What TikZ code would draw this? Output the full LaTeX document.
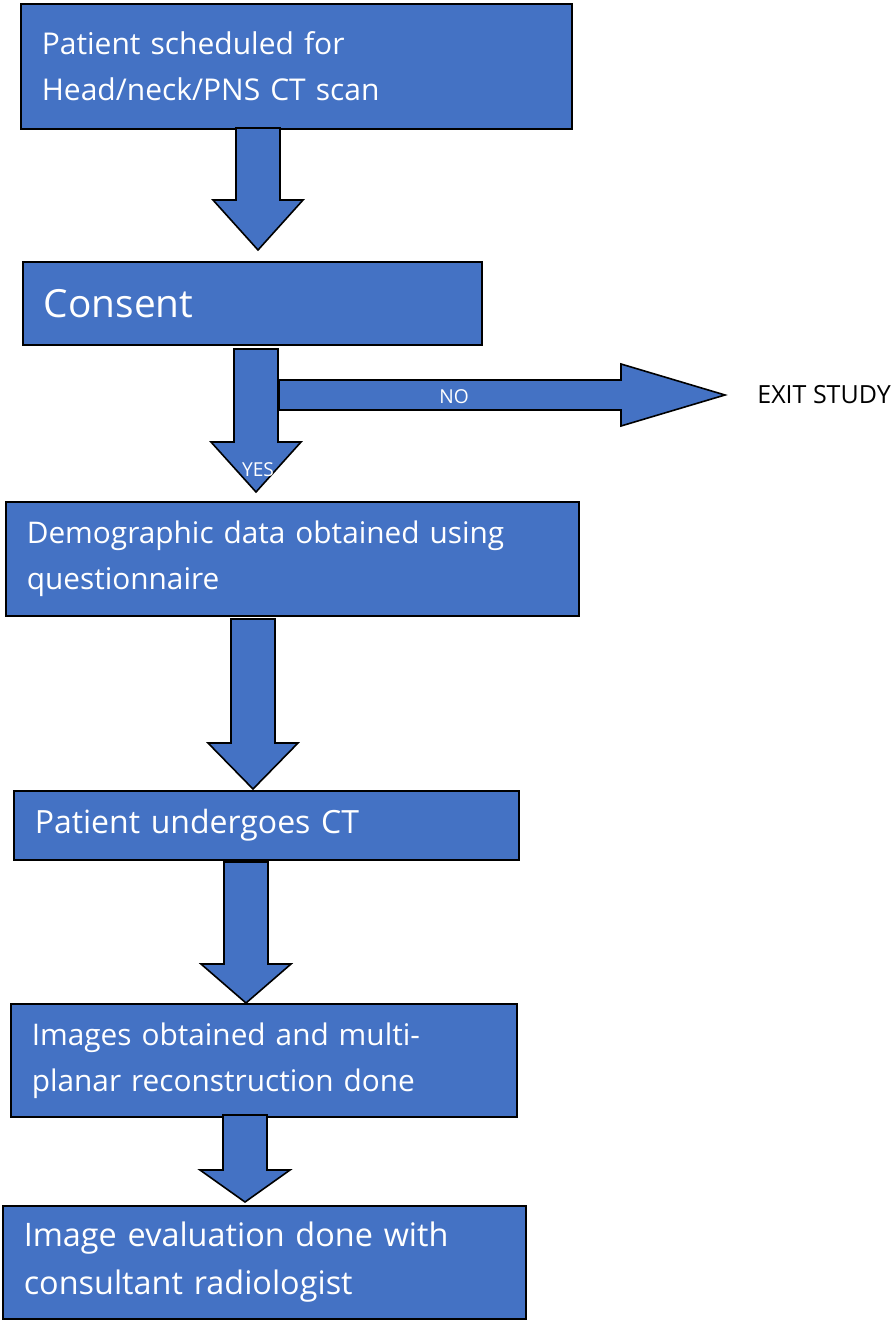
\documentclass[tikz,border=0pt]{standalone}
\usepackage{fontspec}
\setmainfont{Open Sans}
\usepackage{tikz}
\usetikzlibrary{positioning, calc}
\definecolor{boxblue}{HTML}{4472C4}

\newcommand{\blockdown}[3]{%
  \draw[block arrow] let \p1=(#1), \p2=(#2) in
    (\x1-11pt,\y1) -- (\x1+11pt,\y1) -- (\x1+11pt,\y2+#3) -- (\x1+22.5pt,\y2+#3)
    -- (\x2,\y2) -- (\x1-22.5pt,\y2+#3) -- (\x1-11pt,\y2+#3) -- cycle;}

\begin{document}
\begin{tikzpicture}[x=1pt, y=1pt,
  flow box/.style={draw=black, line width=0.8pt, fill=boxblue, text=white,
    align=left, inner xsep=10.5pt, inner ysep=0pt, anchor=north west},
  block arrow/.style={draw=black, line width=0.8pt, fill=boxblue, line join=miter},
  small label/.style={text=white, font=\fontsize{9.6}{11}\selectfont, inner sep=0pt}]

\useasboundingbox (0,0) rectangle (447.5,-660);

\node[flow box, text width=254.5pt, minimum height=62.5pt,
  font=\fontsize{15}{23}\selectfont] (scan) at (10,-1.5)
  {Patient scheduled for\\Head/neck/PNS CT scan};
\node[flow box, text width=208.5pt, minimum height=41.5pt,
  font=\fontsize{19.4}{24}\selectfont] (consent) at (11,-130.5) {Consent};
\node[flow box, text width=265.5pt, minimum height=57pt,
  font=\fontsize{14.9}{23}\selectfont] (demo) at (2.5,-250.5)
  {Demographic data obtained using\\questionnaire};
\node[flow box, text width=231.5pt, minimum height=34.5pt,
  font=\fontsize{16}{23}\selectfont] (ct) at (6.5,-395) {Patient undergoes CT};
\node[flow box, text width=232pt, minimum height=56.5pt,
  font=\fontsize{14.9}{23}\selectfont] (mpr) at (5,-501.5)
  {Images obtained and multi-\\planar reconstruction done};
\node[flow box, text width=240.5pt, minimum height=56.5pt,
  font=\fontsize{16.2}{24}\selectfont] (eval) at (1,-602.5)
  {Image evaluation done with\\consultant radiologist};

% arrow ends
\coordinate (a1top) at (129,-64);    \coordinate (a1tip) at (129,-125);
\coordinate (a2top) at (128,-174.5); \coordinate (a2tip) at (128,-246);
\coordinate (a3top) at (126.5,-309.5); \coordinate (a3tip) at (126.5,-394.5);
\coordinate (a4top) at (123,-431);   \coordinate (a4tip) at (123,-501.5);
\coordinate (a5top) at (122.5,-557.5); \coordinate (a5tip) at (122.5,-601);
\coordinate (nostart) at (139.5,-197.5); \coordinate (notip) at (362.5,-197.5);

\blockdown{a1top}{a1tip}{25}
\blockdown{a2top}{a2tip}{25}
\blockdown{a3top}{a3tip}{23}
\blockdown{a4top}{a4tip}{19.5}
\blockdown{a5top}{a5tip}{16}

\draw[block arrow] let \p1=(nostart), \p2=(notip) in
  (\x1,\y1+7.5) -- (\x2-52,\y1+7.5) -- (\x2-52,\y1+15.5) -- (\x2,\y2)
  -- (\x2-52,\y1-15.5) -- (\x2-52,\y1-7.5) -- (\x1,\y1-7.5) -- cycle;

\node[small label] (no) at (227,-198.5) {NO};
\node[small label] (yes) at (129,-235) {YES};
\node[font=\fontsize{12.5}{14}\selectfont, inner sep=0pt] (exit) [right=16pt of notip] {EXIT STUDY};

\end{tikzpicture}
\end{document}
